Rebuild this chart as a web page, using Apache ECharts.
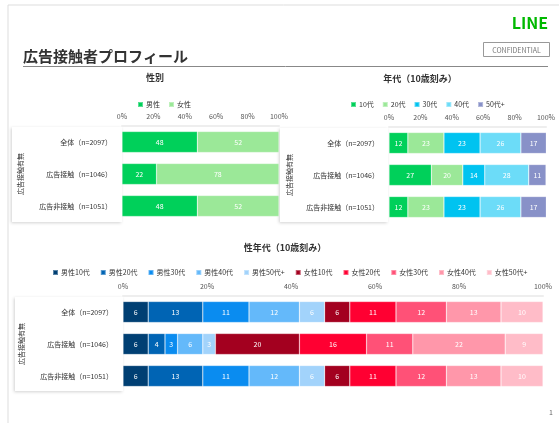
<!DOCTYPE html>
<html>
<head>
<meta charset="utf-8">
<script src="https://cdn.jsdelivr.net/npm/echarts@6/dist/echarts.min.js"></script>
<style>
  html, body { margin: 0; padding: 0; background: #fff; }
  #main { width: 559px; height: 423px; }
</style>
</head>
<body>
<div id="main"></div>
<script>
// 広告接触者プロフィール -- 性別 / 年代 / 性年代 の100%積み上げ横棒
var categories = ['全体（n=2097）', '広告接触（n=1046）', '広告非接触（n=1051）'];
var pctTicks = [0, 20, 40, 60, 80, 100];

// 性別
var genderNames = ['男性', '女性'];
var male = [48, 22, 48];
var female = [52, 78, 52];

// 年代
var ageNames = ['10代', '20代', '30代', '40代', '50代+'];
var age10 = [12, 27, 12];
var age20 = [23, 20, 23];
var age30 = [23, 14, 23];
var age40 = [26, 28, 26];
var age50 = [17, 11, 17];

// 性年代
var sexAgeNames = ['男性10代', '男性20代', '男性30代', '男性40代', '男性50代+',
                   '女性10代', '女性20代', '女性30代', '女性40代', '女性50代+'];
var m10 = [6, 6, 6];
var m20 = [13, 4, 13];
var m30 = [11, 3, 11];
var m40 = [12, 6, 12];
var m50 = [6, 3, 6];
var f10 = [6, 20, 6];
var f20 = [11, 16, 11];
var f30 = [12, 11, 12];
var f40 = [13, 22, 13];
var f50 = [10, 9, 10];

var FONT = '"Noto Sans CJK JP", "Noto Sans", sans-serif';

function xAxisOf(idx) {
  return {
    gridIndex: idx, type: 'value', position: 'top',
    min: pctTicks[0], max: pctTicks[pctTicks.length - 1], interval: 20,
    axisLine: { show: true, lineStyle: { color: '#eeeeee', width: 2 } },
    axisTick: { show: false },
    splitLine: { show: false },
    axisLabel: { fontSize: 7, color: '#555', margin: 6, fontFamily: FONT,
                 formatter: '{value}%' }
  };
}
function yAxisOf(idx, gap) {
  return {
    gridIndex: idx, type: 'category', inverse: true, data: categories,
    axisLine: { show: false }, axisTick: { show: false },
    axisLabel: { fontSize: 7, color: '#333', margin: 10, fontFamily: FONT },
    name: '広告接触有無', nameLocation: 'middle', nameRotate: 90, nameGap: gap,
    nameTextStyle: { fontSize: 7, color: '#333', fontFamily: FONT }
  };
}
function barOf(name, data, idx, color) {
  return {
    name: name, type: 'bar', stack: 'g' + idx, data: data,
    xAxisIndex: idx, yAxisIndex: idx, barWidth: 21,
    itemStyle: { color: color, borderColor: 'rgba(255,255,255,0.35)', borderWidth: 0.6 },
    label: { show: true, position: 'inside', color: '#fff', fontSize: 7, fontFamily: FONT },
    emphasis: { disabled: true }
  };
}

var genderColors = ['#00d05a', '#9be898'];
var ageColors = ['#00d05a', '#9be898', '#00c3f0', '#6cdcf8', '#8891c8'];
var sexAgeColors = ['#003f73', '#0064b4', '#0a8cf0', '#64b9fa', '#a2d3fb',
                    '#a3001f', '#ff0032', '#ff5177', '#ff97aa', '#ffbcc8'];

var series = [];
[male, female].forEach(function (d, i) { series.push(barOf(genderNames[i], d, 0, genderColors[i])); });
[age10, age20, age30, age40, age50].forEach(function (d, i) { series.push(barOf(ageNames[i], d, 1, ageColors[i])); });
[m10, m20, m30, m40, m50, f10, f20, f30, f40, f50].forEach(function (d, i) {
  series.push(barOf(sexAgeNames[i], d, 2, sexAgeColors[i]));
});

function legendOf(names, left, top, gap) {
  return {
    data: names, left: left, top: top, itemWidth: 5, itemHeight: 5, itemGap: gap,
    icon: 'rect', selectedMode: false,
    textStyle: { fontSize: 7, color: '#333', fontFamily: FONT, padding: [0, 0, 0, -2] }
  };
}
function panel(x, y, w, h) {
  return { type: 'rect', z: -1, shape: { x: x, y: y, width: w, height: h },
           style: { fill: '#fff', shadowBlur: 3, shadowColor: 'rgba(0,0,0,0.18)', shadowOffsetX: -1, shadowOffsetY: 1 } };
}
function label(text, x, y, size, color, weight, align) {
  return { type: 'text', x: x, y: y,
           style: { text: text, fontSize: size, fill: color, fontWeight: weight || 'normal',
                    fontFamily: FONT, align: align || 'center', verticalAlign: 'middle' } };
}

var option = {
  animation: false,
  grid: [
    { left: 122, top: 126, width: 157, height: 96 },
    { left: 389, top: 127, width: 157, height: 96 },
    { left: 123, top: 296, width: 420, height: 96 }
  ],
  xAxis: [xAxisOf(0), xAxisOf(1), xAxisOf(2)],
  yAxis: [yAxisOf(0, 98), yAxisOf(1, 96), yAxisOf(2, 98)],
  legend: [
    legendOf(genderNames, 132, 96, 8),
    legendOf(ageNames, 345, 96, 8),
    legendOf(sexAgeNames, 47, 264, 10)
  ],
  graphic: [
    // 枠
    { type: 'line', shape: { x1: 8, y1: 5, x2: 559, y2: 5 }, style: { stroke: '#dddddd', lineWidth: 1 } },
    { type: 'line', shape: { x1: 8, y1: 5, x2: 8, y2: 423 }, style: { stroke: '#dddddd', lineWidth: 1 } },
    label('LINE', 548, 23, 16, '#00b900', 'bold', 'right'),
    { type: 'rect', shape: { x: 483.5, y: 42.5, width: 66, height: 14 },
      style: { fill: '#fff', stroke: '#999', lineWidth: 1 } },
    label('CONFIDENTIAL', 516.5, 50, 7, '#777', 'normal'),
    label('広告接触者プロフィール', 23, 56, 15, '#333', 'bold', 'left'),
    { type: 'line', shape: { x1: 23, y1: 66.5, x2: 548, y2: 66.5 }, style: { stroke: '#888', lineWidth: 1 } },
    label('性別', 155, 78, 9, '#333', 'bold'),
    label('年代（10歳刻み）', 420, 79, 9, '#333', 'bold'),
    label('性年代（10歳刻み）', 285, 248, 9, '#333', 'bold'),
    label('1', 551, 412, 7, '#666', 'normal'),
    panel(12, 127, 110, 95),
    panel(280, 128, 108, 94),
    panel(15, 297, 108, 94)
  ],
  series: series
};

echarts.init(document.getElementById('main')).setOption(option);
</script>
</body>
</html>
